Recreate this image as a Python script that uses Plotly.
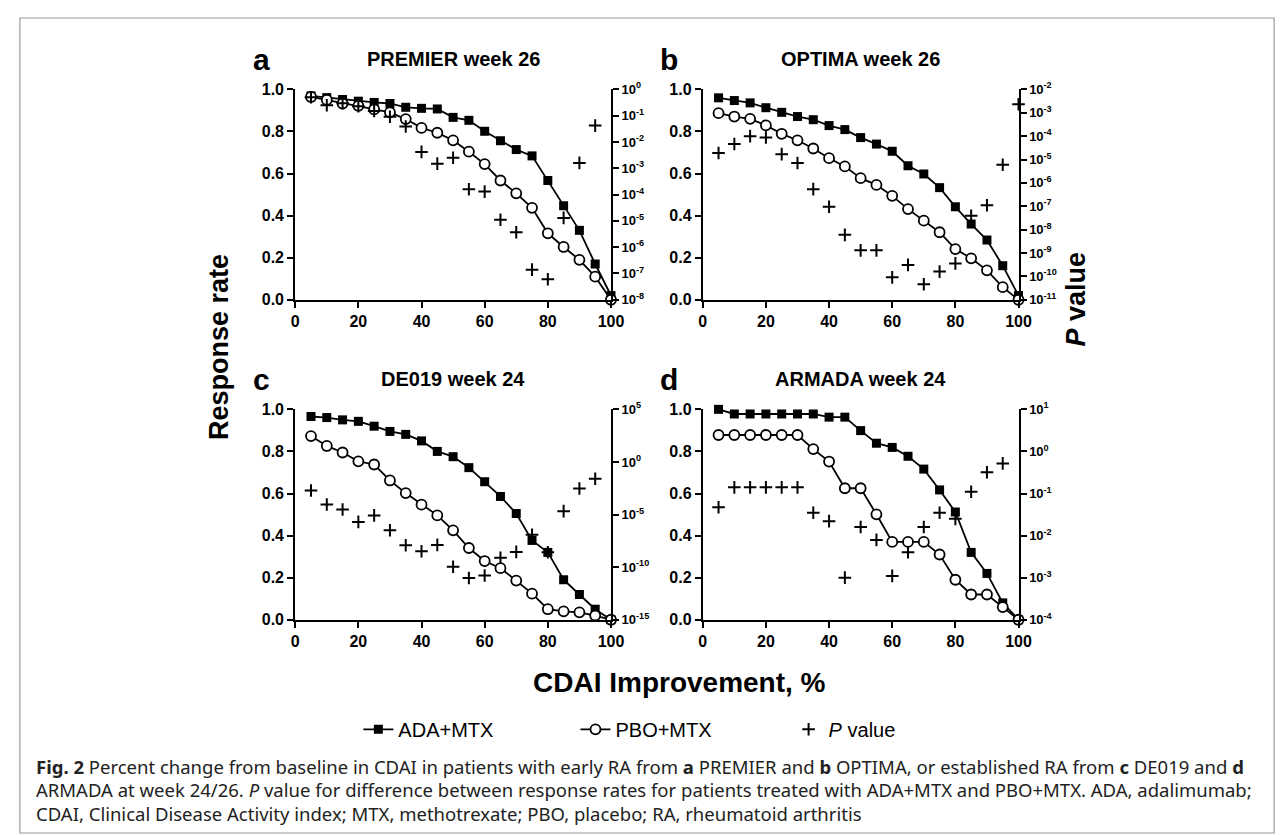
import plotly.graph_objects as go

W, H = 1287, 835

pct = [5, 10, 15, 20, 25, 30, 35, 40, 45, 50, 55, 60, 65, 70, 75, 80, 85, 90, 95, 100]

premier_ada = [0.969, 0.961, 0.952, 0.944, 0.938, 0.933, 0.915, 0.910, 0.907, 0.867, 0.853, 0.801,
               0.756, 0.714, 0.684, 0.567, 0.447, 0.33, 0.17, 0.02]
premier_pbo = [0.964, 0.950, 0.933, 0.922, 0.905, 0.891, 0.859, 0.817, 0.794, 0.758, 0.704, 0.645,
               0.567, 0.506, 0.437, 0.316, 0.251, 0.19, 0.11, 0.0]
premier_p = [5.0e-1, 2.5e-1, 3.0e-1, 2.3e-1, 1.5e-1, 9.1e-2, 3.9e-2, 4.2e-3, 1.5e-3, 2.5e-3, 1.6e-4,
             1.3e-4, 1.1e-5, 3.7e-6, 1.4e-7, 6.0e-8, 1.3e-5, 1.6e-3, 4.2e-2, None]

optima_ada = [0.960, 0.947, 0.936, 0.913, 0.891, 0.871, 0.856, 0.828, 0.809, 0.771, 0.740, 0.706,
              0.637, 0.598, 0.533, 0.442, 0.360, 0.284, 0.162, 0.02]
optima_pbo = [0.887, 0.871, 0.860, 0.829, 0.789, 0.758, 0.719, 0.673, 0.634, 0.578, 0.546, 0.494,
              0.431, 0.376, 0.321, 0.241, 0.197, 0.140, 0.060, 0.0]
optima_p = [1.9e-5, 4.6e-5, 1.0e-4, 8.7e-5, 1.7e-5, 7.1e-6, 5.4e-7, 9.5e-8, 6.0e-9, 1.3e-9, 1.3e-9,
            9.1e-11, 3.1e-10, 4.6e-11, 1.6e-10, 3.6e-10, 3.9e-8, 1.1e-7, 6.0e-6, 2.3e-3]

de019_ada = [0.966, 0.961, 0.950, 0.943, 0.920, 0.895, 0.881, 0.850, 0.800, 0.775, 0.723, 0.656,
             0.586, 0.505, 0.377, 0.320, 0.19, 0.12, 0.05, 0.0]
de019_pbo = [0.873, 0.826, 0.795, 0.753, 0.738, 0.662, 0.602, 0.547, 0.496, 0.425, 0.341, 0.279,
             0.245, 0.186, 0.124, 0.05, 0.04, 0.035, 0.02, 0.0]
de019_p = [1.9e-3, 8.9e-5, 3.0e-5, 2.0e-6, 8.3e-6, 3.2e-7, 1.2e-8, 3.2e-9, 1.3e-8, 1.1e-10, 9.3e-12,
           1.6e-11, 7.8e-10, 2.8e-9, 1.2e-7, 2.6e-9, 2.1e-5, 3.0e-3, 2.5e-2, None]

armada_ada = [1.0, 0.978, 0.978, 0.978, 0.978, 0.978, 0.978, 0.963, 0.963, 0.899, 0.839, 0.819,
              0.777, 0.716, 0.617, 0.512, 0.32, 0.22, 0.08, 0.0]
armada_pbo = [0.878, 0.878, 0.878, 0.878, 0.878, 0.878, 0.811, 0.752, 0.625, 0.625, 0.501, 0.37,
              0.37, 0.37, 0.31, 0.19, 0.12, 0.12, 0.06, 0.0]
armada_p = [4.7e-2, 1.4e-1, 1.4e-1, 1.4e-1, 1.4e-1, 1.4e-1, 3.5e-2, 2.2e-2, 1.0e-3, 1.6e-2, 7.9e-3,
            1.1e-3, 4.0e-3, 1.6e-2, 3.5e-2, 2.5e-2, 1.1e-1, 3.2e-1, 5.2e-1, None]

panel_letters = ["a", "b", "c", "d"]
panel_titles = ["PREMIER week 26", "OPTIMA week 26", "DE019 week 24", "ARMADA week 24"]
panel_ada = [premier_ada, optima_ada, de019_ada, armada_ada]
panel_pbo = [premier_pbo, optima_pbo, de019_pbo, armada_pbo]
panel_p = [premier_p, optima_p, de019_p, armada_p]
panel_p_exps = [list(range(-8, 1)), list(range(-11, -1)), [-15, -10, -5, 0, 5], list(range(-4, 2))]

x_ticks = [0, 20, 40, 60, 80, 100]
y_ticks = [0.0, 0.2, 0.4, 0.6, 0.8, 1.0]

series_names = ["ADA+MTX", "PBO+MTX", "<i>P</i> value"]

# layout geometry (pixels)
col_x = [(287, 607), (700, 1020)]
row_y = [(74, 289), (401, 616)]
legend_text_x = [395, 615, 831]

FONT = "Liberation Sans, Arial, sans-serif"


def px(x):
    return x / W


def py(y):
    return 1 - y / H


fig = go.Figure()
layout = {}
annotations = []
legend_ids = ["legend", "legend2", "legend3"]

for i in range(4):
    r, c = divmod(i, 2)
    xa = "x" if i == 0 else f"x{i + 1}"
    yl_n, yr_n = 2 * i + 1, 2 * i + 2
    yl = "y" if yl_n == 1 else f"y{yl_n}"
    yr = f"y{yr_n}"
    show = i == 0

    fig.add_trace(go.Scatter(x=pct, y=panel_ada[i], xaxis=xa, yaxis=yl, mode="lines+markers",
                             name=series_names[0], showlegend=show, legend=legend_ids[0],
                             cliponaxis=False, line=dict(color="black", width=1.8),
                             marker=dict(symbol="square", size=9, color="black",
                                         line=dict(color="black", width=0))))
    fig.add_trace(go.Scatter(x=pct, y=panel_pbo[i], xaxis=xa, yaxis=yl, mode="lines+markers",
                             name=series_names[1], showlegend=show, legend=legend_ids[1],
                             cliponaxis=False, line=dict(color="black", width=1.8),
                             marker=dict(symbol="circle", size=10, color="white",
                                         line=dict(color="black", width=1.8))))
    fig.add_trace(go.Scatter(x=pct, y=panel_p[i], xaxis=xa, yaxis=yr, mode="markers",
                             name=series_names[2], showlegend=show, legend=legend_ids[2],
                             cliponaxis=False,
                             marker=dict(symbol="cross-thin", size=9, color="black",
                                         line=dict(color="black", width=2))))

    x0, x1 = col_x[c]
    yt, yb = row_y[r]
    axis_common = dict(showline=True, linecolor="black", linewidth=2, ticks="outside", ticklen=6,
                       tickwidth=2, tickcolor="black", showgrid=False, zeroline=False,
                       tickfont=dict(family=FONT, size=16, color="black", weight="bold"))
    layout[f"xaxis{i + 1}"] = dict(domain=[px(x0), px(x1)], anchor=yl, range=[0, 100],
                                   tickvals=x_ticks, **axis_common)
    layout[f"yaxis{yl_n}"] = dict(domain=[py(yb), py(yt)], anchor=xa, range=[0, 1],
                                  tickvals=y_ticks, tickformat=".1f", **axis_common)
    exps = panel_p_exps[i]
    rc = dict(axis_common)
    rc["tickfont"] = dict(family=FONT, size=13, color="black", weight="bold")
    layout[f"yaxis{yr_n}"] = dict(overlaying=yl, anchor=xa, side="right", type="log",
                                  range=[exps[0], exps[-1]],
                                  tickvals=[10.0 ** e for e in exps],
                                  ticktext=[f"10<sup>{e}</sup>" for e in exps], **rc)

    annotations.append(dict(x=px((x0 + x1) / 2), y=py(yt - 31), xref="paper", yref="paper",
                            xanchor="center", yanchor="middle",
                            text=f"<b>{panel_titles[i]}</b>", showarrow=False,
                            font=dict(family=FONT, size=20, color="black")))
    annotations.append(dict(x=px(x0 - 34), y=py(yt - 31), xref="paper", yref="paper",
                            xanchor="center", yanchor="middle",
                            text=f"<b>{panel_letters[i]}</b>", showarrow=False,
                            font=dict(family=FONT, size=30, color="black")))

annotations.append(dict(x=px(209), y=py(337), xref="paper", yref="paper", textangle=-90,
                        xanchor="center", yanchor="middle",
                        text="<b>Response rate</b>", showarrow=False,
                        font=dict(family=FONT, size=27, color="black")))
annotations.append(dict(x=px(1078), y=py(288), xref="paper", yref="paper", textangle=-90,
                        xanchor="center", yanchor="middle",
                        text="<b><i>P</i> value</b>", showarrow=False,
                        font=dict(family=FONT, size=27, color="black")))
annotations.append(dict(x=px(676), y=py(680), xref="paper", yref="paper",
                        xanchor="center", yanchor="middle",
                        text="<b>CDAI Improvement, %</b>", showarrow=False,
                        font=dict(family=FONT, size=28, color="black")))

caption_lines = [
    "<b>Fig. 2</b> Percent change from baseline in CDAI in patients with early RA from <b>a</b> PREMIER "
    "and <b>b</b> OPTIMA, or established RA from <b>c</b> DE019 and <b>d</b>",
    "ARMADA at week 24/26. <i>P</i> value for difference between response rates for patients treated "
    "with ADA+MTX and PBO+MTX. ADA, adalimumab;",
    "CDAI, Clinical Disease Activity index; MTX, methotrexate; PBO, placebo; RA, rheumatoid arthritis",
]
for k, line in enumerate(caption_lines):
    annotations.append(dict(x=px(22), y=py(766 + 24 * k), xref="paper", yref="paper",
                            xanchor="left", yanchor="middle", text=line, showarrow=False,
                            font=dict(family="Noto Sans, sans-serif", size=18.5, color="#222")))

shapes = [
    dict(type="rect", xref="paper", yref="paper", x0=px(8), x1=px(1279), y0=py(834), y1=py(1),
         line=dict(color="#9a9a9a", width=1.2)),
]

legend_common = dict(orientation="h", yanchor="middle", y=py(728), xanchor="left",
                     font=dict(family=FONT, size=20, color="black"), itemwidth=30,
                     bgcolor="rgba(0,0,0,0)", borderwidth=0)

fig.update_layout(
    width=W, height=H, autosize=False, margin=dict(l=0, r=0, t=0, b=0),
    paper_bgcolor="white", plot_bgcolor="white",
    font=dict(family=FONT, color="black"),
    annotations=annotations, shapes=shapes,
    legend=dict(x=px(legend_text_x[0] - 44), **legend_common),
    legend2=dict(x=px(legend_text_x[1] - 44), **legend_common),
    legend3=dict(x=px(legend_text_x[2] - 44), **legend_common),
    **layout,
)

fig.write_html("out.html")
